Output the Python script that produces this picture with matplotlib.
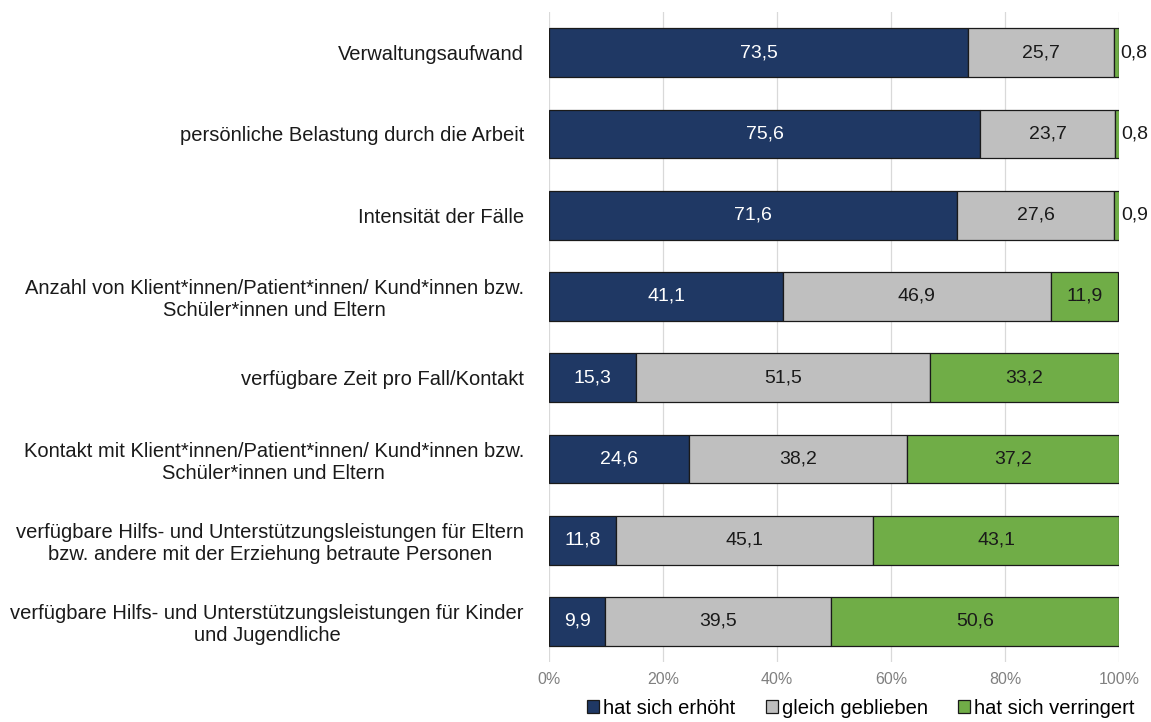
import matplotlib.pyplot as plt
import numpy as np

plt.rcParams['font.family'] = ['Liberation Sans', 'DejaVu Sans']

# data (percent)
categories = [
    'Verwaltungsaufwand',
    'persönliche Belastung durch die Arbeit',
    'Intensität der Fälle',
    'Anzahl von Klient*innen/Patient*innen/ Kund*innen bzw.\nSchüler*innen und Eltern',
    'verfügbare Zeit pro Fall/Kontakt',
    'Kontakt mit Klient*innen/Patient*innen/ Kund*innen bzw.\nSchüler*innen und Eltern',
    'verfügbare Hilfs- und Unterstützungsleistungen für Eltern\nbzw. andere mit der Erziehung betraute Personen',
    'verfügbare Hilfs- und Unterstützungsleistungen für Kinder\nund Jugendliche',
]
erhoeht = [73.5, 75.6, 71.6, 41.1, 15.3, 24.6, 11.8, 9.9]
gleich = [25.7, 23.7, 27.6, 46.9, 51.5, 38.2, 45.1, 39.5]
verringert = [0.8, 0.8, 0.9, 11.9, 33.2, 37.2, 43.1, 50.6]
series_names = ['hat sich erhöht', 'gleich geblieben', 'hat sich verringert']
xticks = [0, 20, 40, 60, 80, 100]

colors = ['#1F3864', '#BFBFBF', '#70AD47']
text_colors = ['white', '#1a1a1a', '#1a1a1a']

fig = plt.figure(figsize=(11.51, 7.22), dpi=100)
ax = fig.add_axes([549/1151, 1 - 662/722, 570/1151, 650/722])

y = np.arange(len(categories))
left = np.zeros(len(categories))
for vals, col, tcol, name in zip([erhoeht, gleich, verringert], colors, text_colors, series_names):
    vals = np.array(vals)
    ax.barh(y, vals, left=left, height=0.6, color=col, edgecolor='#1a1a1a',
            linewidth=0.9, label=name, zorder=3)
    for yi, l, v in zip(y, left, vals):
        s = f'{v:.1f}'.replace('.', ',')
        if v < 5:
            ax.text(l + v + 0.3, yi, s, ha='left', va='center', fontsize=14,
                    color='#1a1a1a', zorder=4, clip_on=False)
        else:
            ax.text(l + v / 2, yi, s, ha='center', va='center', fontsize=14,
                    color=tcol, zorder=4)
    left = left + vals

ax.set_xlim(0, 100)
ax.set_ylim(len(categories) - 0.5, -0.5)
ax.set_xticks(xticks)
ax.set_xticklabels([f'{t}%' for t in xticks], color='#808080', fontsize=11.5)
ax.set_yticks(y)
ax.set_yticklabels(categories, fontsize=14.5, color='#1a1a1a')
for t in ax.get_yticklabels():
    t.set_multialignment('center')
ax.tick_params(axis='y', length=0, pad=18)
ax.tick_params(axis='x', length=0, pad=7)
ax.grid(axis='x', color='#D9D9D9', linewidth=0.9, zorder=0)
for sp in ax.spines.values():
    sp.set_visible(False)

fig.legend(*ax.get_legend_handles_labels(), loc='center',
           bbox_to_anchor=(861/1151, 1 - 708/722), ncol=3, frameon=False,
           fontsize=14.5, handlelength=0.6, handleheight=0.6, handletextpad=0.2,
           columnspacing=1.5, borderpad=0)

fig.savefig('out.png', dpi=100)
